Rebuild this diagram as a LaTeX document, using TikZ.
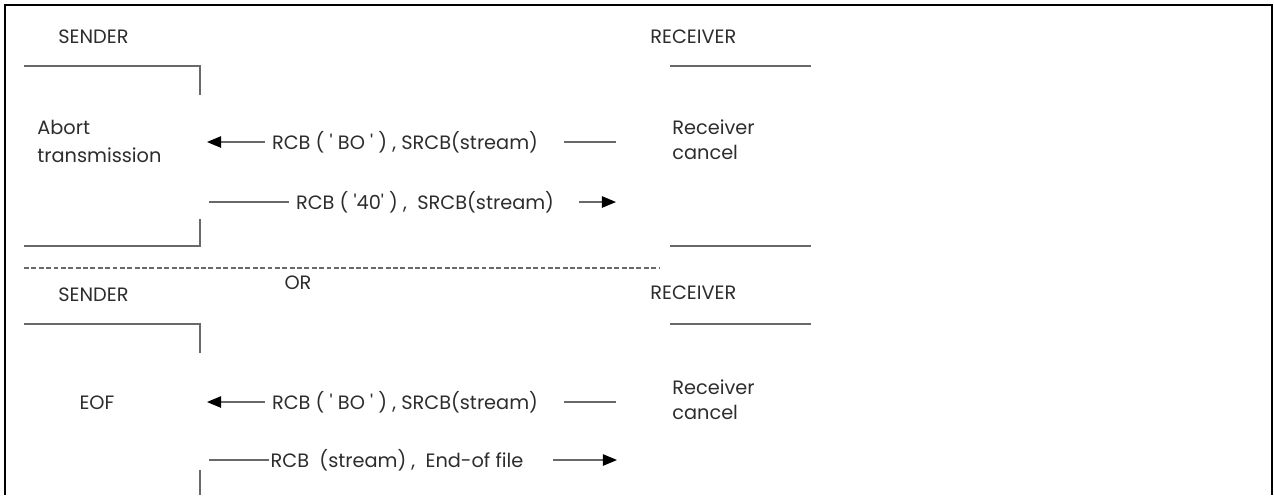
\documentclass[tikz,border=0pt]{standalone}
\usepackage{fontspec}
\setmainfont{Poppins}
\definecolor{wiregray}{RGB}{105,105,105}
\definecolor{inkgray}{RGB}{45,45,45}
\usetikzlibrary{arrows.meta}
\tikzset{
  txt/.style={text=inkgray, font=\fontsize{11}{16}\selectfont, inner sep=0pt},
  msgtxt/.style={txt, inner xsep=4pt},
  wire/.style={draw=wiregray, line width=0.7pt},
  msg/.style={wire, -{Triangle[length=8pt, width=6.5pt, color=black]}},
}
\newcommand{\q}{\textquotesingle}

\begin{document}
\begin{tikzpicture}[x=0.02cm, y=-0.02cm]
  \useasboundingbox (0,0) rectangle (1274,495);
  \draw [line width=1.5pt] (5,495) -- (5,5) -- (1272,5) -- (1272,495);

  % first case
  \node [txt, anchor=west] (snd1) at (58,37) {SENDER};
  \node [txt, anchor=west] (rcv1) at (650,37) {RECEIVER};
  \draw [wire] (24,66) -- (200,66) -- (200,95);
  \draw [wire] (200,219) -- (200,246) -- (24,246);
  \draw [wire] (670,66) -- (811,66);
  \draw [wire] (670,246) -- (811,246);

  \node [txt, anchor=west, align=left] (abort) at (37,141) {Abort\\transmission};
  \node [txt, anchor=west, align=left, font=\fontsize{11}{14.2}\selectfont] (cancel1) at (672,140) {Receiver\\cancel};

  \node [msgtxt] (m1) at (405,142) {RCB ( \q\ BO \q\ ) , SRCB(stream)};
  \coordinate (s1) at (207,142);
  \coordinate (r1) at (616,142);
  \draw [msg] (m1) -- (s1);
  \draw [wire, shorten <=19*0.02cm] (m1) -- (r1);

  \node [msgtxt] (m2) at (425,202) {RCB ( \q40\q\ ) ,\ \ SRCB(stream)};
  \coordinate (s2) at (209,202);
  \coordinate (r2) at (616,202);
  \draw [wire] (s2) -- (m2);
  \draw [msg, shorten <=18*0.02cm] (m2) -- (r2);

  \draw [wire, dash pattern=on 2.8pt off 1.4pt] (24,268) -- (660,268);
  \node [txt] (or) at (298,283) {OR};

  % second case
  \node [txt, anchor=west] (snd2) at (58,295) {SENDER};
  \node [txt, anchor=west] (rcv2) at (650,293) {RECEIVER};
  \draw [wire] (24,324) -- (200,324) -- (200,353);
  \draw [wire] (670,324) -- (811,324);
  \draw [wire] (200,470) -- (200,495);

  \node [txt] (eof) at (97,403) {EOF};
  \node [txt, anchor=west, align=left, font=\fontsize{11}{14.2}\selectfont] (cancel2) at (672,400) {Receiver\\cancel};

  \node [msgtxt] (m3) at (405,402) {RCB ( \q\ BO \q\ ) , SRCB(stream)};
  \coordinate (s3) at (207,402);
  \coordinate (r3) at (616,402);
  \draw [msg] (m3) -- (s3);
  \draw [wire, shorten <=19*0.02cm] (m3) -- (r3);

  \node [txt, inner xsep=1pt] (m4) at (397,460) {RCB\ \ (stream) ,\ \ End-of file};
  \coordinate (s4) at (209,460);
  \coordinate (r4) at (617,460);
  \draw [wire] (s4) -- (m4);
  \draw [msg, shorten <=28*0.02cm] (m4) -- (r4);
\end{tikzpicture}
\end{document}
